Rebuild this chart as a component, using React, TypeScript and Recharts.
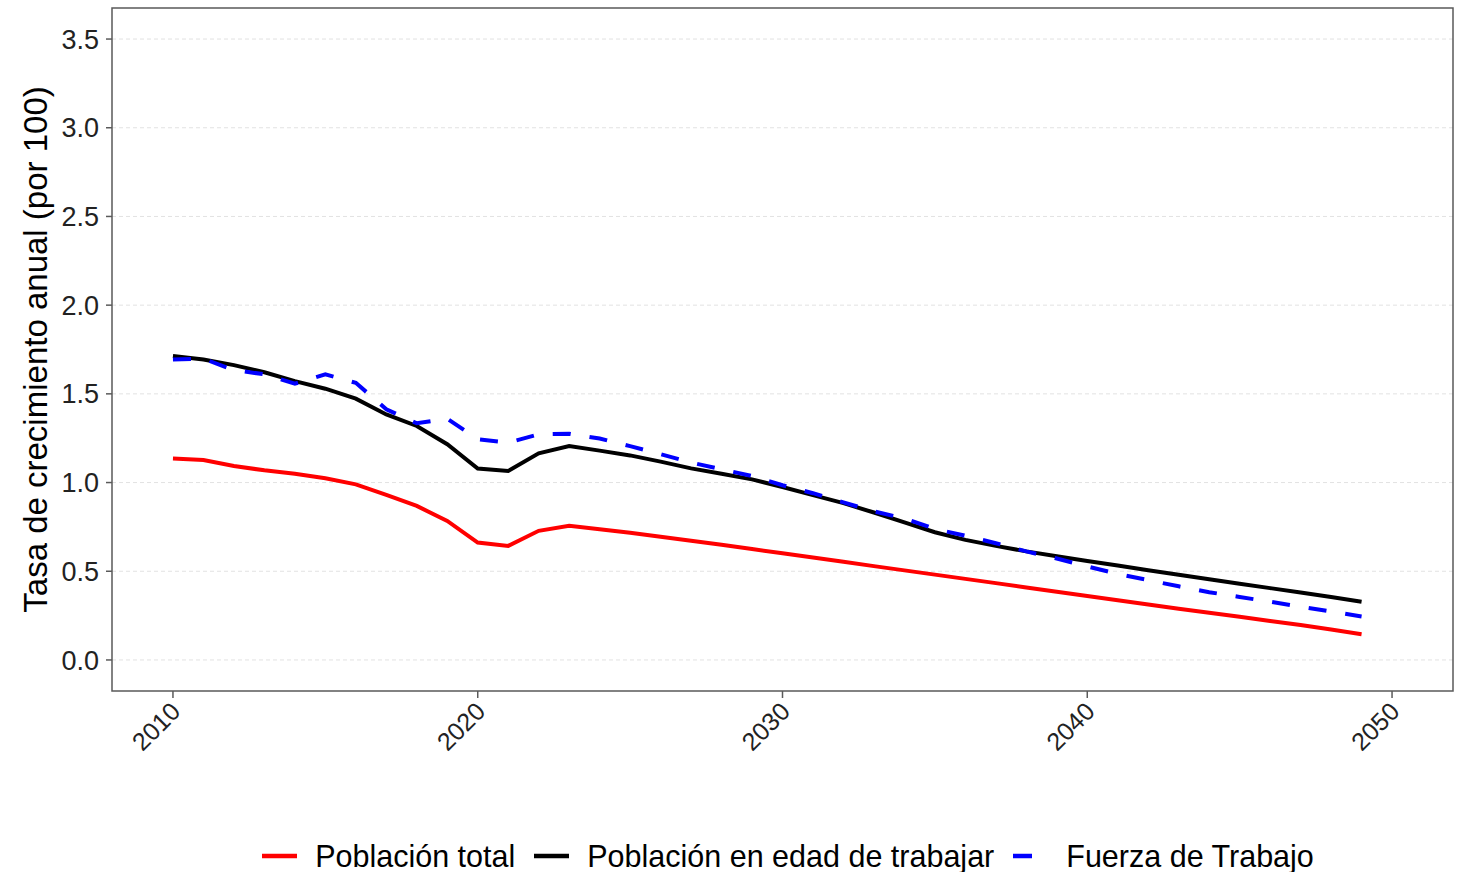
import { LineChart, Line, XAxis, YAxis, CartesianGrid, Legend, ReferenceArea } from "recharts";

const years = [
  2010, 2011, 2012, 2013, 2014, 2015, 2016, 2017, 2018, 2019,
  2020, 2021, 2022, 2023, 2024, 2025, 2026, 2027, 2028, 2029,
  2030, 2031, 2032, 2033, 2034, 2035, 2036, 2037, 2038, 2039,
  2040, 2041, 2042, 2043, 2044, 2045, 2046, 2047, 2048, 2049,
];

const poblacionTotal = [
  1.135, 1.127, 1.093, 1.069, 1.05, 1.024, 0.99, 0.93, 0.868, 0.784,
  0.662, 0.643, 0.728, 0.756, 0.737, 0.717, 0.695, 0.672, 0.649, 0.625,
  0.601, 0.577, 0.553, 0.529, 0.505, 0.481, 0.457, 0.433, 0.409, 0.385,
  0.361, 0.337, 0.313, 0.289, 0.266, 0.243, 0.22, 0.197, 0.172, 0.145,
];

const edadTrabajar = [
  1.713, 1.694, 1.662, 1.622, 1.572, 1.529, 1.473, 1.384, 1.319, 1.216,
  1.079, 1.065, 1.165, 1.206, 1.18, 1.153, 1.118, 1.08, 1.05, 1.018,
  0.975, 0.929, 0.884, 0.831, 0.775, 0.72, 0.677, 0.643, 0.612, 0.585,
  0.558, 0.532, 0.506, 0.48, 0.455, 0.43, 0.405, 0.38, 0.355, 0.328,
];

const fuerzaTrabajo = [
  1.694, 1.698, 1.634, 1.61, 1.557, 1.61, 1.562, 1.413, 1.334, 1.36,
  1.244, 1.225, 1.272, 1.275, 1.248, 1.205, 1.16, 1.113, 1.075, 1.037,
  0.985, 0.94, 0.888, 0.838, 0.797, 0.739, 0.7, 0.658, 0.612, 0.572,
  0.527, 0.485, 0.45, 0.415, 0.382, 0.355, 0.328, 0.3, 0.273, 0.245,
];

const xTicks = [2010, 2020, 2030, 2040, 2050];
const yTicks = [0, 0.5, 1, 1.5, 2, 2.5, 3, 3.5];
const xDomain = [2008, 2052];
const yDomain = [-0.175, 3.675];

const series = [
  { key: "total", name: "Población total", color: "#ff0000", dash: undefined },
  { key: "edad", name: "Población en edad de trabajar", color: "#000000", dash: undefined },
  { key: "fuerza", name: "Fuerza de Trabajo", color: "#0000ff", dash: "18 19" },
];

const data = years.map((y, i) => ({
  year: y,
  total: poblacionTotal[i],
  edad: edadTrabajar[i],
  fuerza: fuerzaTrabajo[i],
}));

const FONT = "'Liberation Sans', Arial, sans-serif";
const FRAME = "#5a5a5a";

function XTick(props: any) {
  const { x, y, payload } = props;
  const tx = x + 9;
  const ty = y + 13;
  return (
    <text
      x={tx}
      y={ty}
      transform={`rotate(-45, ${tx}, ${ty})`}
      textAnchor="end"
      fontSize={25}
      fill="#222"
      fontFamily={FONT}
    >
      {payload.value}
    </text>
  );
}

function YTitle(props: any) {
  const { viewBox } = props;
  const cx = viewBox.x + 47;
  const cy = viewBox.y + viewBox.height / 2;
  return (
    <text
      x={cx}
      y={cy}
      transform={`rotate(-90, ${cx}, ${cy})`}
      textAnchor="middle"
      fontSize={33}
      fill="#000"
      fontFamily={FONT}
    >
      Tasa de crecimiento anual (por 100)
    </text>
  );
}

function LegendRow() {
  return (
    <div
      style={{
        boxSizing: "border-box",
        height: 70,
        paddingTop: 38,
        paddingLeft: 30,
        display: "flex",
        justifyContent: "center",
        alignItems: "center",
        fontFamily: FONT,
        fontSize: 30.5,
        color: "#000",
        whiteSpace: "nowrap",
      }}
    >
      {series.map((s) => (
        <div key={s.key} style={{ display: "flex", alignItems: "center", marginRight: 19 }}>
          <svg width={35} height={10} style={{ marginRight: 18 }}>
            <line
              x1={0}
              y1={5}
              x2={35}
              y2={5}
              stroke={s.color}
              strokeWidth={4.5}
              strokeDasharray={s.dash ? "19 40" : undefined}
            />
          </svg>
          <span>{s.name}</span>
        </div>
      ))}
    </div>
  );
}

export default function App() {
  return (
    <div style={{ position: "absolute", left: 0, top: 0, background: "#fff" }}>
      <LineChart
        width={1460}
        height={872}
        data={data}
        margin={{ top: 8, right: 7, left: 0, bottom: 0 }}
      >
        <CartesianGrid
          vertical={false}
          stroke="#e2e2e2"
          strokeDasharray="4 3"
          horizontalValues={yTicks}
        />
        <XAxis
          dataKey="year"
          type="number"
          domain={xDomain}
          ticks={xTicks}
          allowDataOverflow
          height={111}
          tickSize={7}
          tick={<XTick />}
          axisLine={false}
          tickLine={{ stroke: FRAME, strokeWidth: 1.5 }}
        />
        <YAxis
          type="number"
          domain={yDomain}
          ticks={yTicks}
          allowDataOverflow
          width={112}
          tickSize={6}
          tickMargin={7}
          tickFormatter={(v: number) => v.toFixed(1)}
          tick={{ fontSize: 27, fill: "#222", fontFamily: FONT }}
          axisLine={false}
          tickLine={{ stroke: FRAME, strokeWidth: 1.5 }}
          label={<YTitle />}
        />
        <ReferenceArea
          x1={xDomain[0]}
          x2={xDomain[1]}
          y1={yDomain[0]}
          y2={yDomain[1]}
          fill="none"
          fillOpacity={0}
          stroke={FRAME}
          strokeWidth={1.5}
          ifOverflow="visible"
        />
        <Legend
          verticalAlign="bottom"
          height={70}
          wrapperStyle={{ left: 112, width: 1341, bottom: 0, height: 70, padding: 0 }}
          content={() => <LegendRow />}
        />
        {series.map((s) => (
          <Line
            key={s.key}
            type="linear"
            dataKey={s.key}
            name={s.name}
            stroke={s.color}
            strokeWidth={4}
            strokeDasharray={s.dash}
            dot={false}
            activeDot={false}
            isAnimationActive={false}
          />
        ))}
      </LineChart>
    </div>
  );
}
